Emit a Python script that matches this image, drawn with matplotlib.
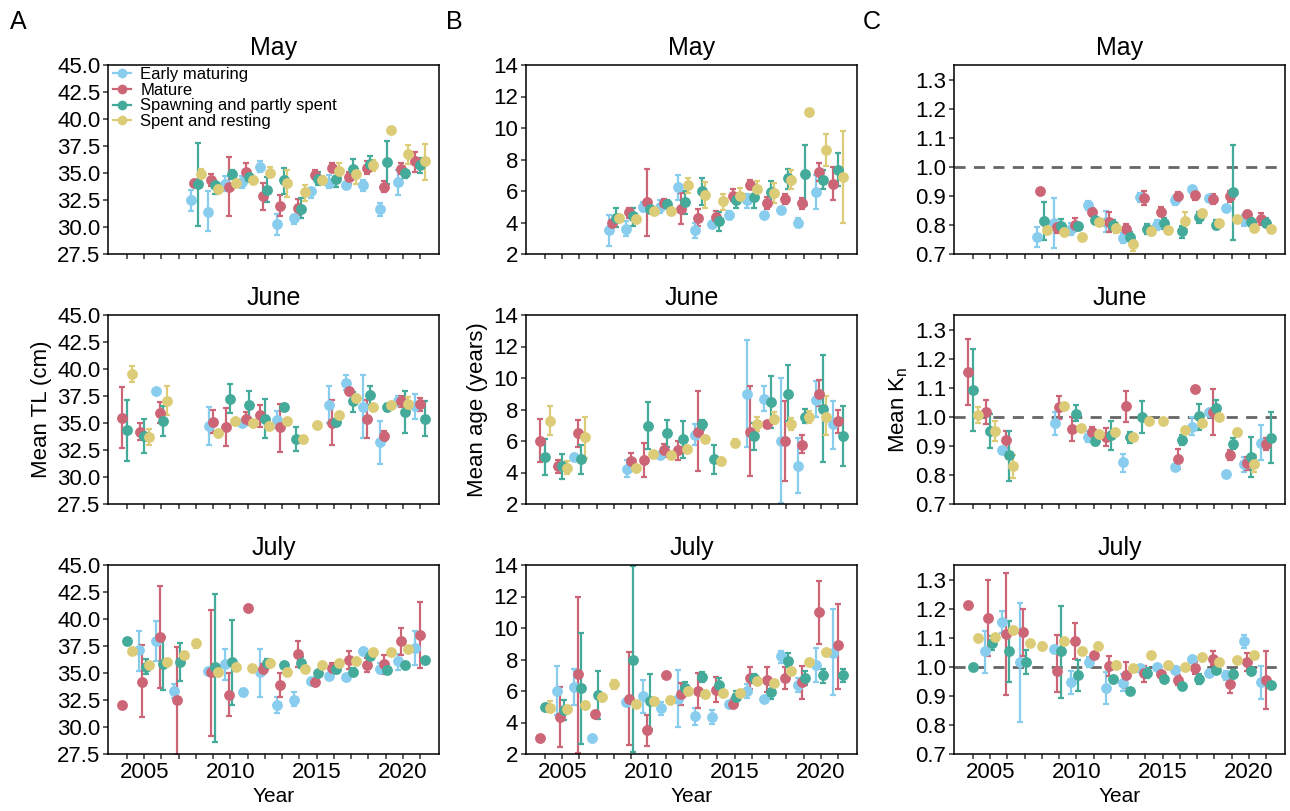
import numpy as np
import matplotlib
matplotlib.use("Agg")
import matplotlib.pyplot as plt
from matplotlib.lines import Line2D

plt.rcParams['font.family'] = ['Liberation Sans', 'DejaVu Sans']
plt.rcParams['mathtext.fontset'] = 'custom'
plt.rcParams['mathtext.rm'] = 'Liberation Sans'
plt.rcParams['mathtext.it'] = 'Liberation Sans'

# stage codes, labels and colours
STAGES = ['E', 'M', 'S', 'R']
STAGE_LABELS = ['Early maturing', 'Mature', 'Spawning and partly spent', 'Spent and resting']
STAGE_COLORS = ['#88CCEE', '#CC6677', '#44AA99', '#DDCC77']

MONTHS = ['May', 'June', 'July']

# rows: (year, stage, mean, lower, upper); None = no interval drawn
TL_MAY = [
    (2008, 'E', 32.5, 31.5, 33.4), (2008, 'M', 34.05, None, None), (2008, 'S', 34.0, 30.1, 37.8), (2008, 'R', 34.9, 34.5, 35.4),
    (2009, 'E', 31.4, 29.6, 33.3), (2009, 'M', 34.35, 33.8, 34.9), (2009, 'S', 33.9, 33.1, 34.2), (2009, 'R', 33.5, None, None),
    (2010, 'E', 33.95, 33.3, 34.7), (2010, 'M', 33.7, 31.0, 36.5), (2010, 'S', 34.9, 34.4, 35.3), (2010, 'R', 34.1, None, None),
    (2011, 'E', 34.2, 33.6, 34.75), (2011, 'M', 35.1, 34.6, 35.9), (2011, 'S', 34.6, 34.25, 35.0), (2011, 'R', 34.35, None, None),
    (2012, 'E', 35.6, 35.1, 36.1), (2012, 'M', 32.9, 31.6, 34.1), (2012, 'S', 33.4, 32.35, 34.6), (2012, 'R', 35.0, 34.7, 35.6),
    (2013, 'E', 30.3, 29.3, 31.2), (2013, 'M', 31.95, 31.0, 33.0), (2013, 'S', 34.35, 33.1, 35.5), (2013, 'R', 34.1, 32.8, 35.3),
    (2014, 'E', 30.8, 30.3, 31.1), (2014, 'M', 31.8, 31.1, 32.6), (2014, 'S', 31.7, 30.8, 32.7), (2014, 'R', 33.2, 32.4, 33.9),
    (2015, 'E', 33.3, 32.65, 33.6), (2015, 'M', 34.8, 34.4, 35.3), (2015, 'S', 34.45, 33.9, 35.1), (2015, 'R', 34.35, 34.0, 34.7),
    (2016, 'E', 34.1, 33.6, 34.8), (2016, 'M', 35.5, 35.1, 35.9), (2016, 'S', 34.45, 33.7, 35.1), (2016, 'R', 35.2, 34.65, 35.9),
    (2017, 'E', 33.9, 33.65, 34.2), (2017, 'M', 34.6, 34.0, 35.1), (2017, 'S', 35.4, 34.6, 36.3), (2017, 'R', 34.9, 34.0, 35.4),
    (2018, 'E', 33.9, 33.3, 34.35), (2018, 'M', 35.5, 34.9, 36.1), (2018, 'S', 35.8, 35.3, 36.6), (2018, 'R', 35.7, 35.2, 36.2),
    (2019, 'E', 31.65, 31.0, 32.2), (2019, 'M', 33.7, 33.2, 34.25), (2019, 'S', 36.0, 34.0, 38.0), (2019, 'R', 39.0, None, None),
    (2020, 'E', 34.2, 33.0, 35.3), (2020, 'M', 35.4, 34.9, 35.9), (2020, 'S', 35.0, 34.5, 35.3), (2020, 'R', 36.75, 35.8, 37.6),
    (2021, 'M', 36.1, 35.1, 36.9), (2021, 'S', 35.7, 35.0, 36.35), (2021, 'R', 36.1, 34.35, 37.65),
]

TL_JUN = [
    (2004, 'M', 35.5, 32.7, 38.3), (2004, 'S', 34.35, 31.5, 37.1), (2004, 'R', 39.5, 38.8, 40.3),
    (2005, 'M', 34.2, 33.4, 35.0), (2005, 'S', 33.8, 32.25, 35.4), (2005, 'R', 33.7, 33.0, 34.4),
    (2006, 'E', 38.0, None, None), (2006, 'M', 35.95, 35.0, 36.9), (2006, 'S', 35.2, 33.8, 36.6), (2006, 'R', 37.05, 35.7, 38.4),
    (2009, 'E', 34.75, 33.0, 36.5), (2009, 'M', 35.1, 34.1, 36.2), (2009, 'R', 34.1, None, None),
    (2010, 'M', 34.65, 32.9, 36.4), (2010, 'S', 37.2, 35.9, 38.6), (2010, 'R', 35.2, None, None),
    (2011, 'E', 35.0, 34.8, 35.3), (2011, 'M', 35.4, 34.8, 36.0), (2011, 'S', 36.7, 35.5, 38.0), (2011, 'R', 35.0, None, None),
    (2012, 'M', 35.7, 34.65, 36.7), (2012, 'S', 35.4, 33.65, 37.2), (2012, 'R', 34.75, None, None),
    (2013, 'E', 35.3, 34.5, 36.1), (2013, 'M', 34.6, 32.35, 36.8), (2013, 'S', 36.45, 36.1, 36.8), (2013, 'R', 35.2, None, None),
    (2014, 'S', 33.5, 32.4, 34.6), (2014, 'R', 33.5, 33.2, 33.8),
    (2015, 'R', 34.8, 34.6, 35.0),
    (2016, 'E', 36.65, 35.0, 38.4), (2016, 'M', 35.0, 33.0, 37.1), (2016, 'S', 35.05, 34.7, 35.4), (2016, 'R', 35.7, None, None),
    (2017, 'E', 38.75, 38.1, 39.4), (2017, 'M', 38.0, None, None), (2017, 'S', 37.0, 36.0, 37.9), (2017, 'R', 37.3, None, None),
    (2018, 'E', 36.5, 33.6, 39.4), (2018, 'M', 35.4, 33.6, 37.1), (2018, 'S', 37.55, 36.7, 38.4), (2018, 'R', 36.5, None, None),
    (2019, 'E', 33.2, 31.2, 35.2), (2019, 'M', 33.8, 33.3, 34.25), (2019, 'S', 36.45, 36.1, 36.8), (2019, 'R', 36.65, None, None),
    (2020, 'E', 37.0, 36.6, 37.5), (2020, 'M', 37.0, 36.5, 37.5), (2020, 'S', 36.05, 34.1, 38.0), (2020, 'R', 36.75, 36.1, 37.4),
    (2021, 'E', 36.6, 35.4, 37.65), (2021, 'M', 36.75, 36.1, 37.3), (2021, 'S', 35.4, 33.8, 37.0),
]

TL_JUL = [
    (2004, 'M', 32.05, None, None), (2004, 'S', 38.0, None, None), (2004, 'R', 37.0, 36.8, 37.2),
    (2005, 'E', 37.1, 35.2, 38.9), (2005, 'M', 34.2, 30.9, 37.55), (2005, 'S', 35.6, 34.9, 36.3), (2005, 'R', 35.75, None, None),
    (2006, 'E', 38.0, 36.1, 39.8), (2006, 'M', 38.35, 33.6, 43.1), (2006, 'S', 35.8, 33.4, 38.3), (2006, 'R', 36.05, None, None),
    (2007, 'E', 33.3, 32.65, 34.0), (2007, 'M', 32.5, 27.4, 37.4), (2007, 'S', 36.05, 34.25, 37.75), (2007, 'R', 36.7, None, None),
    (2008, 'R', 37.75, 37.35, 38.05),
    (2009, 'E', 35.2, None, None), (2009, 'M', 35.05, 29.2, 40.8), (2009, 'S', 35.6, 28.65, 42.35), (2009, 'R', 35.05, None, None),
    (2010, 'E', 35.8, 34.35, 37.2), (2010, 'M', 33.0, 31.0, 35.0), (2010, 'S', 36.0, 32.0, 39.9), (2010, 'R', 35.6, None, None),
    (2011, 'E', 33.2, 32.9, 33.5), (2011, 'M', 41.0, None, None), (2011, 'R', 35.45, None, None),
    (2012, 'E', 35.05, 32.8, 37.2), (2012, 'M', 35.35, 34.9, 35.8), (2012, 'S', 35.9, 35.5, 36.3), (2012, 'R', 35.95, None, None),
    (2013, 'E', 32.0, 31.3, 32.8), (2013, 'M', 33.9, 32.8, 35.0), (2013, 'S', 35.75, None, None), (2013, 'R', 35.05, None, None),
    (2014, 'E', 32.5, 31.9, 33.2), (2014, 'M', 36.75, 35.6, 38.0), (2014, 'S', 35.95, 35.45, 36.5), (2014, 'R', 35.35, None, None),
    (2015, 'E', 34.25, None, None), (2015, 'M', 34.15, None, None), (2015, 'S', 35.0, None, None), (2015, 'R', 35.7, None, None),
    (2016, 'E', 34.7, None, None), (2016, 'M', 35.45, 34.9, 35.9), (2016, 'S', 35.35, 35.0, 35.7), (2016, 'R', 35.9, None, None),
    (2017, 'E', 34.6, None, None), (2017, 'M', 36.2, 35.4, 37.05), (2017, 'S', 35.1, 34.8, 35.5), (2017, 'R', 36.1, None, None),
    (2018, 'E', 37.0, None, None), (2018, 'M', 35.75, 35.1, 36.4), (2018, 'S', 36.6, None, None), (2018, 'R', 36.9, None, None),
    (2019, 'E', 35.35, 35.0, 35.9), (2019, 'M', 35.8, 34.95, 36.7), (2019, 'S', 35.3, None, None), (2019, 'R', 36.9, None, None),
    (2020, 'E', 36.1, 35.3, 36.8), (2020, 'M', 38.0, 36.7, 39.2), (2020, 'S', 35.75, None, None), (2020, 'R', 37.2, None, None),
    (2021, 'E', 37.3, 35.7, 38.85), (2021, 'M', 38.5, 35.45, 41.6), (2021, 'S', 36.25, None, None),
]

AGE_MAY = [
    (2008, 'E', 3.5, 2.5, 4.5), (2008, 'M', 4.0, None, None), (2008, 'S', 4.3, 3.7, 4.95), (2008, 'R', 4.3, None, None),
    (2009, 'E', 3.6, 3.15, 4.1), (2009, 'M', 4.65, 4.3, 4.9), (2009, 'S', 4.4, 3.8, 4.9), (2009, 'R', 4.25, None, None),
    (2010, 'E', 5.0, 4.7, 5.3), (2010, 'M', 5.3, 3.15, 7.4), (2010, 'S', 4.85, None, None), (2010, 'R', 4.7, None, None),
    (2011, 'E', 5.0, 4.6, 5.4), (2011, 'M', 5.25, 4.95, 5.5), (2011, 'S', 5.2, 5.0, 5.4), (2011, 'R', 4.7, None, None),
    (2012, 'E', 6.25, 5.45, 7.0), (2012, 'M', 4.85, 3.9, 5.85), (2012, 'S', 5.3, 4.55, 6.0), (2012, 'R', 6.35, 5.85, 6.85),
    (2013, 'E', 3.5, 3.0, 4.0), (2013, 'M', 4.3, 3.8, 4.85), (2013, 'S', 6.0, 5.1, 6.85), (2013, 'R', 5.75, 4.9, 6.55),
    (2014, 'E', 3.9, 3.7, 4.05), (2014, 'M', 4.35, 4.05, 4.7), (2014, 'S', 4.1, 3.45, 4.65), (2014, 'R', 5.35, 4.8, 5.8),
    (2015, 'E', 4.45, 4.2, 4.7), (2015, 'M', 5.7, 5.35, 6.1), (2015, 'S', 5.4, 4.95, 5.75), (2015, 'R', 5.7, 5.35, 6.2),
    (2016, 'E', 5.4, 4.9, 5.8), (2016, 'M', 6.4, 6.1, 6.7), (2016, 'S', 5.65, 4.95, 6.3), (2016, 'R', 6.1, 5.55, 6.65),
    (2017, 'E', 4.5, None, None), (2017, 'M', 5.25, 4.85, 5.6), (2017, 'S', 5.95, 5.25, 6.65), (2017, 'R', 5.9, 5.25, 6.5),
    (2018, 'E', 4.8, None, None), (2018, 'M', 5.5, 5.2, 5.8), (2018, 'S', 6.8, 6.15, 7.4), (2018, 'R', 6.7, 6.1, 7.35),
    (2019, 'E', 4.0, 3.7, 4.3), (2019, 'M', 5.25, 4.85, 5.55), (2019, 'S', 7.05, 5.1, 8.95), (2019, 'R', 11.0, None, None),
    (2020, 'E', 5.95, 4.85, 7.0), (2020, 'M', 7.2, 6.65, 7.8), (2020, 'S', 6.7, 6.1, 7.35), (2020, 'R', 8.6, 7.6, 9.6),
    (2021, 'M', 6.45, 5.4, 7.55), (2021, 'S', 7.35, 6.3, 8.4), (2021, 'R', 6.9, 4.0, 9.8),
]

AGE_JUN = [
    (2004, 'M', 6.0, 4.65, 7.4), (2004, 'S', 5.0, 3.85, 6.15), (2004, 'R', 7.3, 6.4, 8.2),
    (2005, 'M', 4.4, 4.0, 4.8), (2005, 'S', 4.4, 3.6, 5.2), (2005, 'R', 4.3, 3.9, 4.75),
    (2006, 'E', 5.0, None, None), (2006, 'M', 6.5, 5.6, 7.35), (2006, 'S', 4.85, 3.9, 5.75), (2006, 'R', 6.25, 4.9, 7.5),
    (2009, 'E', 4.25, 3.7, 4.8), (2009, 'M', 4.7, 4.15, 5.25), (2009, 'R', 4.3, None, None),
    (2010, 'M', 4.8, 3.7, 5.9), (2010, 'S', 6.95, 5.5, 8.45), (2010, 'R', 5.15, None, None),
    (2011, 'E', 5.1, None, None), (2011, 'M', 5.4, 5.0, 5.8), (2011, 'S', 6.5, 5.65, 7.35), (2011, 'R', 5.1, None, None),
    (2012, 'M', 5.4, 4.8, 6.0), (2012, 'S', 6.1, 4.9, 7.3), (2012, 'R', 5.5, None, None),
    (2013, 'E', 6.4, 5.75, 7.05), (2013, 'M', 6.6, 4.1, 9.15), (2013, 'S', 7.05, 6.7, 7.35), (2013, 'R', 6.1, None, None),
    (2014, 'S', 4.85, 3.9, 5.75), (2014, 'R', 4.7, 4.55, 4.9),
    (2015, 'R', 5.85, 5.65, 6.1),
    (2016, 'E', 9.0, 5.65, 12.4), (2016, 'M', 6.6, 3.8, 9.5), (2016, 'S', 6.3, 5.45, 7.15), (2016, 'R', 7.05, 6.65, 7.5),
    (2017, 'E', 8.65, 7.9, 9.5), (2017, 'M', 7.05, None, None), (2017, 'S', 8.5, 6.8, 10.15), (2017, 'R', 7.4, 7.05, 7.85),
    (2018, 'E', 6.0, 2.05, 10.0), (2018, 'M', 6.0, 3.45, 8.55), (2018, 'S', 9.0, 7.25, 10.8), (2018, 'R', 7.05, 6.7, 7.45),
    (2019, 'E', 4.4, 2.7, 6.2), (2019, 'M', 5.75, 5.25, 6.35), (2019, 'S', 7.55, 7.15, 8.05), (2019, 'R', 7.5, 7.15, 7.9),
    (2020, 'E', 8.6, 7.55, 9.8), (2020, 'M', 9.0, 8.2, 9.85), (2020, 'S', 8.05, 4.65, 11.45), (2020, 'R', 7.55, 6.35, 8.85),
    (2021, 'E', 7.05, 5.5, 8.55), (2021, 'M', 7.25, 6.5, 8.0), (2021, 'S', 6.3, 4.4, 8.25),
]

AGE_JUL = [
    (2004, 'M', 3.0, None, None), (2004, 'S', 5.0, None, None), (2004, 'R', 4.95, 4.65, 5.35),
    (2005, 'E', 6.0, 4.45, 7.6), (2005, 'M', 4.35, 2.45, 6.25), (2005, 'S', 4.8, 4.15, 5.4), (2005, 'R', 4.85, None, None),
    (2006, 'E', 6.25, 5.1, 7.4), (2006, 'M', 7.05, 2.05, 11.95), (2006, 'S', 6.2, 2.65, 9.7), (2006, 'R', 5.1, None, None),
    (2007, 'E', 3.0, None, None), (2007, 'M', 4.55, None, None), (2007, 'S', 5.75, 4.2, 7.3), (2007, 'R', 5.6, None, None),
    (2008, 'R', 6.45, 6.15, 6.7),
    (2009, 'E', 5.3, None, None), (2009, 'M', 5.5, 2.6, 8.45), (2009, 'S', 8.0, 2.1, 13.95), (2009, 'R', 5.15, None, None),
    (2010, 'E', 5.7, 4.6, 6.7), (2010, 'M', 3.5, 2.5, 4.5), (2010, 'S', 5.35, 3.6, 7.1), (2010, 'R', 5.35, None, None),
    (2011, 'E', 4.9, 4.5, 5.3), (2011, 'M', 7.0, None, None), (2011, 'R', 5.45, None, None),
    (2012, 'E', 5.5, 3.7, 7.35), (2012, 'M', 5.8, 5.1, 6.5), (2012, 'S', 6.2, 5.8, 6.6), (2012, 'R', 6.0, None, None),
    (2013, 'E', 4.4, 3.85, 4.9), (2013, 'M', 6.0, 4.95, 7.15), (2013, 'S', 6.9, 6.6, 7.2), (2013, 'R', 5.8, None, None),
    (2014, 'E', 4.35, 3.9, 4.8), (2014, 'M', 6.05, 5.3, 6.9), (2014, 'S', 6.35, 6.0, 6.8), (2014, 'R', 5.85, None, None),
    (2015, 'E', 5.2, None, None), (2015, 'M', 5.2, 4.95, 5.5), (2015, 'S', 5.6, 5.2, 6.0), (2015, 'R', 5.85, None, None),
    (2016, 'E', 6.0, 5.55, 6.45), (2016, 'M', 6.8, 6.1, 7.55), (2016, 'S', 6.8, 6.5, 7.1), (2016, 'R', 6.65, None, None),
    (2017, 'E', 5.5, None, None), (2017, 'M', 6.7, 5.95, 7.55), (2017, 'S', 5.95, 5.5, 6.35), (2017, 'R', 6.5, None, None),
    (2018, 'E', 8.2, 7.8, 8.55), (2018, 'M', 6.8, 6.1, 7.55), (2018, 'S', 7.9, 7.5, 8.4), (2018, 'R', 7.3, None, None),
    (2019, 'E', 6.4, 5.95, 6.85), (2019, 'M', 6.55, 5.5, 7.6), (2019, 'S', 6.8, 6.35, 7.3), (2019, 'R', 7.85, None, None),
    (2020, 'E', 7.65, 6.55, 8.75), (2020, 'M', 11.0, 9.0, 13.0), (2020, 'S', 7.0, 6.5, 7.4), (2020, 'R', 8.45, None, None),
    (2021, 'E', 8.4, 5.75, 11.2), (2021, 'M', 8.9, 6.15, 11.55), (2021, 'S', 7.0, 6.6, 7.4),
]

KN_MAY = [
    (2008, 'E', 0.76, 0.725, 0.794), (2008, 'M', 0.917, None, None), (2008, 'S', 0.815, 0.748, 0.88), (2008, 'R', 0.783, None, None),
    (2009, 'E', 0.808, 0.722, 0.894), (2009, 'M', 0.794, 0.771, 0.81), (2009, 'S', 0.798, 0.783, 0.82), (2009, 'R', 0.777, None, None),
    (2010, 'E', 0.786, 0.766, 0.806), (2010, 'M', 0.8, 0.779, 0.823), (2010, 'S', 0.797, None, None), (2010, 'R', 0.76, None, None),
    (2011, 'E', 0.867, 0.853, 0.883), (2011, 'M', 0.844, 0.83, 0.858), (2011, 'S', 0.817, None, None), (2011, 'R', 0.809, None, None),
    (2012, 'E', 0.811, 0.775, 0.849), (2012, 'M', 0.811, 0.777, 0.846), (2012, 'S', 0.8, 0.783, 0.817), (2012, 'R', 0.789, 0.771, 0.806),
    (2013, 'E', 0.756, 0.737, 0.771), (2013, 'M', 0.786, 0.769, 0.802), (2013, 'S', 0.76, 0.743, 0.777), (2013, 'R', 0.733, 0.71, 0.748),
    (2014, 'E', 0.895, 0.88, 0.91), (2014, 'M', 0.894, 0.869, 0.917), (2014, 'S', 0.786, 0.769, 0.803), (2014, 'R', 0.78, 0.765, 0.795),
    (2015, 'E', 0.8, 0.783, 0.817), (2015, 'M', 0.846, 0.829, 0.863), (2015, 'S', 0.806, 0.787, 0.825), (2015, 'R', 0.783, None, None),
    (2016, 'E', 0.884, 0.867, 0.901), (2016, 'M', 0.898, 0.884, 0.913), (2016, 'S', 0.779, 0.756, 0.798), (2016, 'R', 0.815, 0.786, 0.844),
    (2017, 'E', 0.923, None, None), (2017, 'M', 0.903, 0.884, 0.92), (2017, 'S', 0.826, 0.806, 0.846), (2017, 'R', 0.84, None, None),
    (2018, 'E', 0.894, None, None), (2018, 'M', 0.89, 0.873, 0.907), (2018, 'S', 0.8, 0.786, 0.817), (2018, 'R', 0.808, None, None),
    (2019, 'E', 0.857, None, None), (2019, 'M', 0.898, 0.88, 0.915), (2019, 'S', 0.913, 0.748, 1.076), (2019, 'R', 0.82, None, None),
    (2020, 'E', 0.817, 0.798, 0.835), (2020, 'M', 0.837, 0.826, 0.849), (2020, 'S', 0.811, 0.798, 0.823), (2020, 'R', 0.791, 0.777, 0.806),
    (2021, 'M', 0.82, 0.801, 0.84), (2021, 'S', 0.808, 0.792, 0.823), (2021, 'R', 0.786, None, None),
]

KN_JUN = [
    (2004, 'M', 1.154, 1.039, 1.266), (2004, 'S', 1.093, 0.952, 1.233), (2004, 'R', 1.007, 0.978, 1.032),
    (2005, 'M', 1.016, 0.976, 1.056), (2005, 'S', 0.95, 0.892, 1.009), (2005, 'R', 0.95, 0.915, 0.984),
    (2006, 'E', 0.886, None, None), (2006, 'M', 0.921, 0.892, 0.952), (2006, 'S', 0.867, 0.779, 0.952), (2006, 'R', 0.831, 0.791, 0.867),
    (2009, 'E', 0.978, 0.936, 1.018), (2009, 'M', 1.032, 0.993, 1.07), (2009, 'R', 1.038, None, None),
    (2010, 'M', 0.959, 0.917, 0.999), (2010, 'S', 1.009, 0.984, 1.039), (2010, 'R', 0.961, None, None),
    (2011, 'E', 0.932, 0.914, 0.95), (2011, 'M', 0.946, 0.928, 0.964), (2011, 'S', 0.917, 0.903, 0.931), (2011, 'R', 0.941, None, None),
    (2012, 'M', 0.929, 0.898, 0.961), (2012, 'S', 0.936, 0.884, 0.986), (2012, 'R', 0.947, None, None),
    (2013, 'E', 0.844, 0.811, 0.872), (2013, 'M', 1.036, 0.982, 1.09), (2013, 'S', 0.929, 0.91, 0.948), (2013, 'R', 0.932, None, None),
    (2014, 'S', 0.998, 0.944, 1.053), (2014, 'R', 0.984, None, None),
    (2015, 'R', 0.984, 0.976, 0.992),
    (2016, 'E', 0.826, None, None), (2016, 'M', 0.855, 0.821, 0.889), (2016, 'S', 0.921, 0.903, 0.938), (2016, 'R', 0.953, None, None),
    (2017, 'E', 0.964, 0.936, 0.999), (2017, 'M', 1.097, None, None), (2017, 'S', 1.001, 0.955, 1.045), (2017, 'R', 0.978, None, None),
    (2018, 'E', 1.018, None, None), (2018, 'M', 1.016, 0.938, 1.097), (2018, 'S', 1.03, 1.001, 1.056), (2018, 'R', 0.999, None, None),
    (2019, 'E', 0.803, None, None), (2019, 'M', 0.869, 0.852, 0.886), (2019, 'S', 0.906, 0.889, 0.926), (2019, 'R', 0.946, None, None),
    (2020, 'E', 0.837, 0.811, 0.863), (2020, 'M', 0.84, 0.817, 0.863), (2020, 'S', 0.863, 0.792, 0.932), (2020, 'R', 0.837, 0.809, 0.869),
    (2021, 'E', 0.911, 0.852, 0.97), (2021, 'M', 0.906, 0.886, 0.926), (2021, 'S', 0.926, 0.84, 1.015),
]

KN_JUL = [
    (2004, 'M', 1.214, None, None), (2004, 'S', 0.998, None, None), (2004, 'R', 1.099, None, None),
    (2005, 'E', 1.053, 0.98, 1.122), (2005, 'M', 1.168, 1.036, 1.3), (2005, 'S', 1.082, 1.059, 1.105), (2005, 'R', 1.101, None, None),
    (2006, 'E', 1.154, 1.116, 1.191), (2006, 'M', 1.113, 0.903, 1.321), (2006, 'S', 1.053, 0.949, 1.156), (2006, 'R', 1.128, None, None),
    (2007, 'E', 1.016, 0.811, 1.22), (2007, 'M', 1.118, 1.036, 1.2), (2007, 'S', 1.018, 0.975, 1.059), (2007, 'R', 1.082, None, None),
    (2008, 'R', 1.07, 1.056, 1.082),
    (2009, 'E', 1.062, None, None), (2009, 'M', 0.987, 0.913, 1.11), (2009, 'S', 1.053, 0.894, 1.21), (2009, 'R', 1.09, None, None),
    (2010, 'E', 0.946, 0.907, 0.984), (2010, 'M', 1.09, 1.028, 1.151), (2010, 'S', 0.97, 0.915, 1.024), (2010, 'R', 1.055, None, None),
    (2011, 'E', 1.016, 1.0, 1.032), (2011, 'M', 1.039, None, None), (2011, 'R', 1.072, None, None),
    (2012, 'E', 0.926, 0.872, 0.982), (2012, 'M', 1.001, 0.967, 1.036), (2012, 'S', 0.959, None, None), (2012, 'R', 1.007, None, None),
    (2013, 'E', 0.944, 0.915, 0.976), (2013, 'M', 0.972, 0.926, 1.018), (2013, 'S', 0.917, None, None), (2013, 'R', 0.995, None, None),
    (2014, 'E', 0.995, None, None), (2014, 'M', 0.98, 0.947, 1.001), (2014, 'S', 0.98, 0.963, 0.997), (2014, 'R', 1.039, None, None),
    (2015, 'E', 0.998, None, None), (2015, 'M', 0.975, None, None), (2015, 'S', 0.957, None, None), (2015, 'R', 1.007, None, None),
    (2016, 'E', 0.99, 0.978, 1.003), (2016, 'M', 0.955, 0.938, 0.972), (2016, 'S', 0.934, None, None), (2016, 'R', 0.998, None, None),
    (2017, 'E', 1.028, None, None), (2017, 'M', 0.995, 0.975, 1.015), (2017, 'S', 0.959, 0.941, 0.976), (2017, 'R', 1.032, None, None),
    (2018, 'E', 0.98, None, None), (2018, 'M', 1.028, 1.007, 1.053), (2018, 'S', 0.99, None, None), (2018, 'R', 1.016, None, None),
    (2019, 'E', 0.97, 0.955, 0.984), (2019, 'M', 0.94, 0.909, 0.961), (2019, 'S', 0.975, 0.961, 0.99), (2019, 'R', 1.024, None, None),
    (2020, 'E', 1.087, 1.064, 1.11), (2020, 'M', 1.018, 0.986, 1.049), (2020, 'S', 0.987, None, None), (2020, 'R', 1.041, None, None),
    (2021, 'E', 0.946, 0.89, 1.003), (2021, 'M', 0.955, 0.855, 1.053), (2021, 'S', 0.936, None, None),
]

PANELS = [
    [TL_MAY, AGE_MAY, KN_MAY],
    [TL_JUN, AGE_JUN, KN_JUN],
    [TL_JUL, AGE_JUL, KN_JUL],
]
YLIMS = [(27.5, 45.0), (2, 14), (0.7, 1.35)]
YTICKS = [np.arange(27.5, 45.01, 2.5), np.arange(2, 14.01, 2), np.arange(0.7, 1.301, 0.1)]
YFMT = ['%.1f', '%d', '%.1f']
YLABELS = ['Mean TL (cm)', 'Mean age (years)', r'Mean K$_\mathregular{n}$']
LETTERS = ['A', 'B', 'C']
YEARS = list(range(2004, 2022))


def dodge(rows, width=0.8):
    # ggplot-style dodge: groups present in a year share the width
    present = {}
    for yr, st, *_ in rows:
        present.setdefault(yr, []).append(st)
    offs = {}
    for yr, sts in present.items():
        sts = sorted(sts, key=STAGES.index)
        n = len(sts)
        for i, st in enumerate(sts):
            offs[(yr, st)] = (i - (n - 1) / 2) * width / n
    return offs


def draw_panel(ax, rows):
    offs = dodge(rows)
    for k, st in enumerate(STAGES):
        sel = [r for r in rows if r[1] == st and r[3] is not None]
        if sel:
            x = [r[0] + offs[(r[0], st)] for r in sel]
            y = np.array([r[2] for r in sel])
            lo = np.array([r[3] for r in sel])
            hi = np.array([r[4] for r in sel])
            ax.errorbar(x, y, yerr=[y - lo, hi - y], fmt='none', ecolor=STAGE_COLORS[k],
                        elinewidth=1.6, capsize=2.5, capthick=1.6, zorder=2)
    for k, st in enumerate(STAGES):
        sel = [r for r in rows if r[1] == st]
        x = [r[0] + offs[(r[0], st)] for r in sel]
        y = [r[2] for r in sel]
        ax.plot(x, y, 'o', color=STAGE_COLORS[k], ms=7.8, mec='none', zorder=3)


fig = plt.figure(figsize=(12.9, 8.11), dpi=100)
lefts = [108 / 1290, 526 / 1290, 954 / 1290]
bottoms = [1 - 254 / 811, 1 - 504 / 811, 1 - 754 / 811]
w = 331 / 1290
h = 189 / 811

for r in range(3):
    for c in range(3):
        ax = fig.add_axes([lefts[c], bottoms[r], w, h])
        if c == 2:
            ax.axhline(1.0, color='#666666', lw=2, ls=(0, (4, 3)), zorder=1)
        draw_panel(ax, PANELS[r][c])
        ax.set_xlim(2002.9, 2022.1)
        ax.set_ylim(*YLIMS[c])
        ax.set_xticks(YEARS)
        if r == 2:
            ax.set_xticklabels([str(y) if y % 5 == 0 else '' for y in YEARS])
            ax.set_xlabel('Year', fontsize=15, labelpad=3)
        else:
            ax.set_xticklabels([])
        ax.set_yticks(YTICKS[c])
        ax.set_yticklabels([YFMT[c] % v for v in YTICKS[c]])
        ax.tick_params(labelsize=16, length=3.5, width=1.1, color='#333333', pad=2)
        for sp in ax.spines.values():
            sp.set_linewidth(1.1)
        ax.set_title(MONTHS[r], fontsize=18, pad=7)
        if r == 1:
            ax.set_ylabel(YLABELS[c], fontsize=16, labelpad=4)
        if r == 0 and c == 0:
            handles = [Line2D([], [], color=col, marker='o', ms=7, lw=1.6, mec='none')
                       for col in STAGE_COLORS]
            ax.legend(handles, STAGE_LABELS, loc='upper left', frameon=False, fontsize=12,
                      handlelength=1.1, handletextpad=0.55, labelspacing=0.05,
                      borderaxespad=0.0, borderpad=0.05, bbox_to_anchor=(0.012, 0.995))

for c, letter in enumerate(LETTERS):
    fig.text([10 / 1290, 446 / 1290, 863 / 1290][c], 1 - 10 / 811, letter,
             fontsize=18, va='top', ha='left')

fig.savefig('out.png', dpi=100)
